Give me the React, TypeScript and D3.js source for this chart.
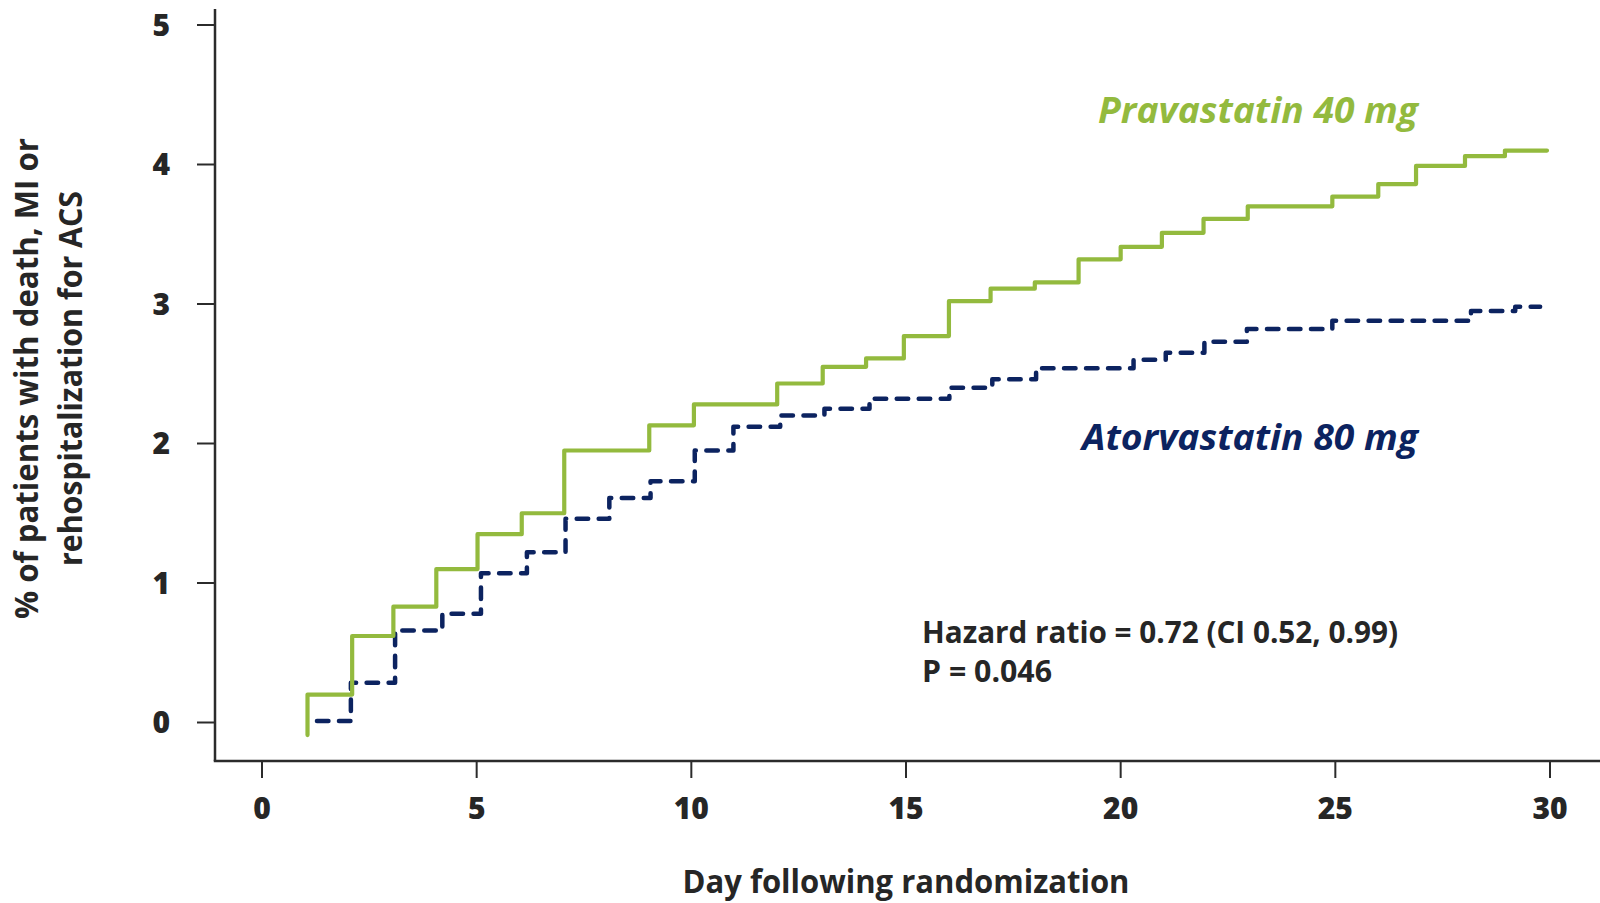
import React from "react";
import * as d3 from "d3";

// ---- data ----
const pravaDays = [1.06, 1.06, 2.1, 3.06, 4.06, 5.02, 6.05, 7.04, 9.02, 10.06, 12.0, 13.06, 14.07, 14.95, 16.0, 16.97, 18.0, 19.02, 20.0, 20.96, 21.93, 22.96, 24.93, 26.0, 26.88, 28.02, 28.95, 29.93];
const pravaValues = [-0.09, 0.2, 0.62, 0.83, 1.1, 1.35, 1.5, 1.95, 2.13, 2.28, 2.43, 2.55, 2.61, 2.77, 3.02, 3.11, 3.155, 3.32, 3.41, 3.51, 3.61, 3.7, 3.77, 3.86, 3.99, 4.06, 4.1, 4.1];

const atorvaDays = [1.28, 2.07, 3.1, 4.2, 5.1, 6.17, 7.07, 8.09, 9.05, 10.08, 10.98, 12.07, 13.1, 14.15, 16.01, 17.01, 18.03, 20.3, 21.05, 21.95, 22.94, 24.93, 28.16, 29.19, 29.77];
const atorvaValues = [0.01, 0.285, 0.66, 0.78, 1.07, 1.22, 1.46, 1.61, 1.73, 1.95, 2.12, 2.2, 2.25, 2.32, 2.4, 2.46, 2.54, 2.6, 2.65, 2.73, 2.82, 2.88, 2.95, 2.98, 2.98];

const xTicks = [0, 5, 10, 15, 20, 25, 30];
const yTicks = [0, 1, 2, 3, 4, 5];

const seriesNames = ["Pravastatin 40 mg", "Atorvastatin 80 mg"];
const statLines = ["Hazard ratio = 0.72 (CI 0.52, 0.99)", "P = 0.046"];
const xTitle = "Day following randomization";
const yTitleLines = ["% of patients with death, MI or", "rehospitalization for ACS"];

const GREEN = "#93ba3e";
const NAVY = "#0c2360";
const AXIS = "#2b2b2b";
const TEXT = "#262626";
const FONT = "'Open Sans', 'DejaVu Sans', sans-serif";

export default function App() {
  const W = 1600;
  const H = 903;
  const axisX = 215;
  const axisY = 761;

  const x = d3.scaleLinear().domain([0, 30]).range([262, 1550]);
  const y = d3.scaleLinear().domain([0, 5]).range([722.5, 25]);

  const line = d3
    .line<[number, number]>()
    .x((d) => x(d[0]))
    .y((d) => y(d[1]))
    .curve(d3.curveStepAfter);

  const pravaPts = pravaDays.map((d, i) => [d, pravaValues[i]] as [number, number]);
  const atorvaPts = atorvaDays.map((d, i) => [d, atorvaValues[i]] as [number, number]);

  return (
    <svg
      width={W}
      height={H}
      viewBox={`0 0 ${W} ${H}`}
      style={{ position: "absolute", left: 0, top: 0, background: "#fff" }}
    >
      <rect x={0} y={0} width={W} height={H} fill="#fff" />

      {/* axes */}
      <line x1={axisX} y1={9} x2={axisX} y2={axisY} stroke={AXIS} strokeWidth={2.5} />
      <line x1={axisX - 1.25} y1={axisY} x2={W} y2={axisY} stroke={AXIS} strokeWidth={2.5} />

      {yTicks.map((t) => (
        <g key={"y" + t}>
          <line x1={197} y1={y(t)} x2={axisX} y2={y(t)} stroke={AXIS} strokeWidth={2} />
          <text
            x={170}
            y={y(t)}
            dy="0.36em"
            textAnchor="end"
            fontFamily={FONT}
            fontWeight={800}
            fontSize={30}
            fill={TEXT}
          >
            {t}
          </text>
        </g>
      ))}

      {xTicks.map((t) => (
        <g key={"x" + t}>
          <line x1={x(t)} y1={axisY} x2={x(t)} y2={778} stroke={AXIS} strokeWidth={2} />
          <text
            x={x(t)}
            y={808}
            dy="0.36em"
            textAnchor="middle"
            fontFamily={FONT}
            fontWeight={800}
            fontSize={30}
            fill={TEXT}
          >
            {t}
          </text>
        </g>
      ))}

      {/* axis titles */}
      <text
        x={906}
        y={893}
        textAnchor="middle"
        fontFamily={FONT}
        fontWeight={700}
        fontSize={33}
        fill={TEXT}
        textLength={447}
        lengthAdjust="spacingAndGlyphs"
      >
        {xTitle}
      </text>
      <g transform="translate(38,378.5) rotate(-90)">
        <text
          x={0}
          y={0}
          textAnchor="middle"
          fontFamily={FONT}
          fontWeight={700}
          fontSize={32}
          fill={TEXT}
          textLength={481}
          lengthAdjust="spacingAndGlyphs"
        >
          {yTitleLines[0]}
        </text>
        <text
          x={0}
          y={44}
          textAnchor="middle"
          fontFamily={FONT}
          fontWeight={700}
          fontSize={32}
          fill={TEXT}
          textLength={375}
          lengthAdjust="spacingAndGlyphs"
        >
          {yTitleLines[1]}
        </text>
      </g>

      {/* curves */}
      <path
        d={line(atorvaPts) || ""}
        fill="none"
        stroke={NAVY}
        strokeWidth={4.5}
        strokeDasharray="11.5 10.5"
        strokeLinecap="round"
        strokeLinejoin="round"
      />
      <path
        d={line(pravaPts) || ""}
        fill="none"
        stroke={GREEN}
        strokeWidth={4.2}
        strokeLinecap="round"
        strokeLinejoin="round"
      />

      {/* series labels */}
      <text
        x={1098}
        y={122.5}
        fontFamily={FONT}
        fontWeight={700}
        fontStyle="italic"
        fontSize={36}
        fill={GREEN}
        textLength={320}
        lengthAdjust="spacingAndGlyphs"
      >
        {seriesNames[0]}
      </text>
      <text
        x={1082}
        y={450}
        fontFamily={FONT}
        fontWeight={700}
        fontStyle="italic"
        fontSize={36}
        fill={NAVY}
        textLength={336}
        lengthAdjust="spacingAndGlyphs"
      >
        {seriesNames[1]}
      </text>

      {/* stats */}
      <text
        x={922}
        y={643}
        fontFamily={FONT}
        fontWeight={700}
        fontSize={30}
        fill={TEXT}
        textLength={476}
        lengthAdjust="spacingAndGlyphs"
      >
        {statLines[0]}
      </text>
      <text
        x={922}
        y={682}
        fontFamily={FONT}
        fontWeight={700}
        fontSize={30}
        fill={TEXT}
        textLength={130}
        lengthAdjust="spacingAndGlyphs"
      >
        {statLines[1]}
      </text>
    </svg>
  );
}
